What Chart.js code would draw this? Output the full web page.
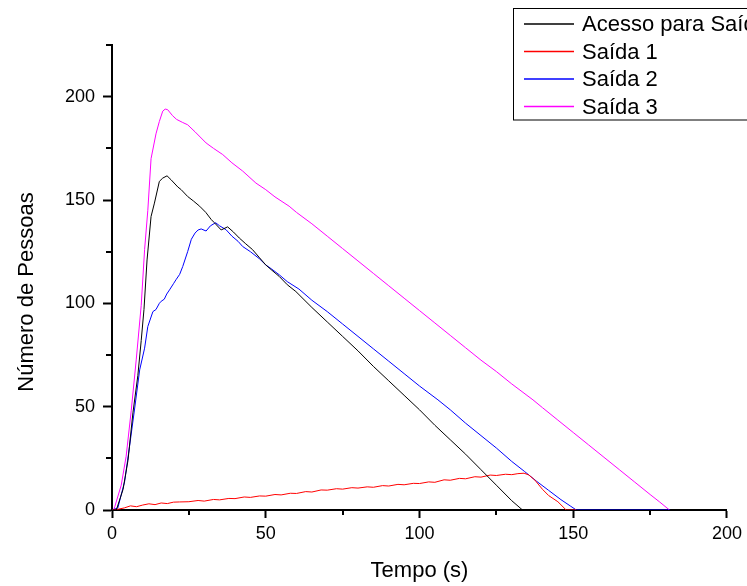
<!DOCTYPE html>
<html>
<head>
<meta charset="utf-8">
<script src="https://cdn.jsdelivr.net/npm/chart.js@4"></script>
<style>
  html, body { margin: 0; padding: 0; background: #fff; }
  #wrap { width: 747px; height: 586px; }
</style>
</head>
<body>
<div id="wrap"><canvas id="chart" width="747" height="586"></canvas></div>
<script>
const seriesNames = ["Acesso para Saída", "Saída 1", "Saída 2", "Saída 3"];
const seriesColors = ["#000000", "#ff0000", "#0000ff", "#ff00ff"];
const yTitle = "Número de Pessoas";

// tempo (s) / número de pessoas
const acessoT = [0, 1.4, 3.6, 5.2, 6.8, 8.4, 9.5, 10.4, 11.4, 12.7, 13.8, 15.4, 16.5, 17.9, 19.2, 21.4, 22.5, 24.6, 26.5, 28.5, 30.5, 32.3, 33.3, 35.5, 37.6, 39.5, 41.4, 43.5, 45.7, 48, 50, 52, 54.4, 57, 59.8, 65, 70, 75, 80, 85, 90, 95, 100, 105, 110, 115, 120, 125, 130, 133.5];
const acessoY = [0, 0, 10, 24, 47, 65, 82, 97, 121, 142, 148.5, 159, 160.6, 161.7, 159.8, 156.3, 155, 151.7, 149.5, 147, 144, 140.5, 139, 135.5, 137, 134.5, 131.6, 128.8, 126, 122, 118.6, 116, 113, 109, 105.7, 98, 91, 84, 77, 69.5, 62.5, 55.5, 48.5, 41, 34, 27, 19.5, 12, 4.5, 0];

const saida1T = [0, 2, 4, 6, 8, 10, 12, 14, 16, 18, 20, 22, 25, 28, 30, 33, 35, 38, 40, 43, 45, 48, 50, 53, 55, 58, 60, 63, 65, 68, 70, 73, 75, 78, 80, 83, 85, 88, 90, 93, 95, 98, 100, 103, 105, 108, 110, 113, 115, 118, 120, 123, 125, 128, 130, 132, 134, 135.5, 137.5, 140, 142, 145, 147.7, 151];
const saida1Y = [0, 0.4, 1, 2, 1.6, 2.4, 3, 2.6, 3.4, 3.1, 3.8, 3.9, 4, 4.6, 4.3, 5.1, 4.9, 5.6, 5.5, 6.3, 6.1, 6.8, 6.7, 7.5, 7.3, 8.1, 8, 8.9, 8.7, 9.7, 9.6, 10.3, 10.1, 10.8, 10.6, 11.2, 11, 11.8, 11.6, 12.4, 12.2, 12.9, 12.8, 13.6, 13.4, 14.6, 14.4, 15.3, 15.1, 16.1, 15.9, 16.9, 16.7, 17.3, 17.1, 17.6, 17.8, 17, 14.5, 10, 7, 4, 0, 0];

const saida2T = [0, 0.3, 1.9, 4.1, 5.7, 7.3, 9, 10.6, 11.65, 13.3, 14.3, 15.4, 16, 17, 17.8, 18.7, 20, 20.8, 22, 23, 24.6, 25.8, 27, 28, 29, 30.6, 32, 33.7, 35, 37.1, 39, 41, 42.5, 45, 48, 50, 52, 54.4, 57, 60.8, 65, 70, 75, 80, 85, 90, 95, 100, 106, 110, 115, 120, 125, 130, 134.2, 138, 142, 146, 149, 151, 181.5];
const saida2Y = [0, 0, 1, 13.7, 30.7, 48.4, 67.8, 78.3, 88.8, 96, 97, 100, 101, 102, 104.5, 106.5, 109.5, 111.4, 114, 117.8, 125, 131, 134, 135.5, 136, 135, 137.5, 139, 137.5, 135.6, 132.5, 130, 127.5, 125, 121.5, 118.6, 116.5, 113.8, 110.5, 106.9, 101.5, 96, 90, 84, 78, 72, 66, 60, 53.3, 48.5, 42, 36, 30, 23.5, 18.6, 14, 9.5, 5, 2, 0, 0];

const saida3T = [0, 0.5, 0.9, 3, 4.6, 6.25, 7.9, 9.5, 10.6, 11.65, 12.7, 14.3, 15.4, 16.5, 17.3, 18.1, 19.7, 21, 23, 24.6, 27, 29, 30.6, 33, 36, 39, 42.5, 46.8, 50, 53, 57.6, 60, 65, 70, 75, 80, 85, 90, 95, 100, 105, 110, 115, 120, 125, 130, 136.9, 140, 145, 150, 155, 160, 165, 170, 175, 178, 181.3];
const saida3Y = [0, 0, 1.6, 12, 26, 48, 73, 99, 126, 145, 170, 182, 188, 193, 194, 193.7, 190.8, 189, 187.5, 186.4, 183, 180, 177.6, 175, 172, 168, 164, 158.2, 155, 151.5, 147, 144, 138.5, 132.5, 126.5, 120.5, 114.5, 108.5, 102.5, 96.5, 90.5, 84.5, 78.5, 72.5, 67, 61, 53.3, 49.5, 43.5, 37.5, 31.5, 25.5, 19.5, 13.5, 7.5, 4, 0];

const xTicks = [0, 50, 100, 150, 200];
const yTicks = [0, 50, 100, 150, 200];

const FONT = "'Liberation Sans', Arial, sans-serif";

function toPoints(t, y) {
  return t.map((v, i) => ({ x: v, y: y[i] }));
}

const allT = [acessoT, saida1T, saida2T, saida3T];
const allY = [acessoY, saida1Y, saida2Y, saida3Y];

const datasets = seriesNames.map((name, i) => ({
  label: name,
  data: toPoints(allT[i], allY[i]),
  borderColor: seriesColors[i],
  borderWidth: 1,
  pointRadius: 0,
  tension: 0,
  fill: false
}));

// ticks menores, título do eixo y e legenda com caixa
const extrasPlugin = {
  id: "extras",
  afterDraw(chart) {
    const ctx = chart.ctx;
    const xs = chart.scales.x, ys = chart.scales.y;
    ctx.save();
    ctx.strokeStyle = "#000";
    ctx.lineWidth = 2;
    xs.ticks.forEach(t => {
      if (xTicks.includes(t.value)) return;
      const px = Math.round(xs.getPixelForValue(t.value));
      ctx.beginPath();
      ctx.moveTo(px, xs.top);
      ctx.lineTo(px, xs.top + 5);
      ctx.stroke();
    });
    ys.ticks.forEach(t => {
      if (yTicks.includes(t.value)) return;
      const py = Math.round(ys.getPixelForValue(t.value));
      ctx.beginPath();
      ctx.moveTo(ys.right, py);
      ctx.lineTo(ys.right - 6, py);
      ctx.stroke();
    });

    // título do eixo y
    ctx.fillStyle = "#000";
    ctx.font = "22px " + FONT;
    ctx.textAlign = "center";
    ctx.textBaseline = "middle";
    ctx.translate(27, 292);
    ctx.rotate(-Math.PI / 2);
    ctx.fillText(yTitle, 0, 0);
    ctx.setTransform(1, 0, 0, 1, 0, 0);

    // legenda
    const bx = 513.5, by = 8.5, bh = 111.5;
    ctx.fillStyle = "#fff";
    ctx.fillRect(bx, by, 260, bh);
    ctx.lineWidth = 1;
    ctx.strokeStyle = "#000";
    ctx.strokeRect(bx, by, 260, bh);
    ctx.font = "22px " + FONT;
    ctx.textBaseline = "middle";
    ctx.textAlign = "left";
    chart.data.datasets.forEach((ds, i) => {
      const ry = 24 + i * 27.5;
      ctx.strokeStyle = seriesColors[i];
      ctx.lineWidth = 1.3;
      ctx.beginPath();
      ctx.moveTo(524, ry);
      ctx.lineTo(574, ry);
      ctx.stroke();
      ctx.fillStyle = "#000";
      ctx.fillText(ds.label, 582, ry + 1);
    });
    ctx.restore();
  }
};

new Chart(document.getElementById("chart").getContext("2d"), {
  type: "line",
  data: { datasets: datasets },
  options: {
    responsive: false,
    animation: false,
    layout: { padding: { top: 45, right: 17, left: 0, bottom: 0 } },
    plugins: {
      legend: { display: false },
      tooltip: { enabled: false }
    },
    scales: {
      x: {
        type: "linear",
        min: 0,
        max: 200,
        afterFit: s => { s.height = 76; },
        border: { display: true, color: "#000", width: 2 },
        grid: {
          drawOnChartArea: false,
          tickLength: 8,
          tickWidth: 2,
          tickColor: c => xTicks.includes(c.tick.value) ? "#000" : "rgba(0,0,0,0)"
        },
        ticks: {
          stepSize: 25,
          maxRotation: 0,
          autoSkip: false,
          padding: 5,
          color: "#000",
          font: { family: FONT, size: 18 },
          callback: v => xTicks.includes(v) ? String(v) : ""
        },
        title: {
          display: true,
          text: "Tempo (s)",
          color: "#000",
          font: { family: FONT, size: 22 },
          padding: { top: 0, bottom: 2 }
        }
      },
      y: {
        type: "linear",
        min: 0,
        max: 225,
        afterFit: s => { s.width = 112; },
        border: { display: true, color: "#000", width: 2 },
        grid: {
          drawOnChartArea: false,
          tickLength: 9,
          tickWidth: 2,
          tickColor: c => yTicks.includes(c.tick.value) ? "#000" : "rgba(0,0,0,0)"
        },
        ticks: {
          stepSize: 25,
          autoSkip: false,
          padding: 8,
          color: "#000",
          font: { family: FONT, size: 18 },
          callback: v => yTicks.includes(v) ? String(v) : ""
        }
      }
    }
  },
  plugins: [extrasPlugin]
});
</script>
</body>
</html>
